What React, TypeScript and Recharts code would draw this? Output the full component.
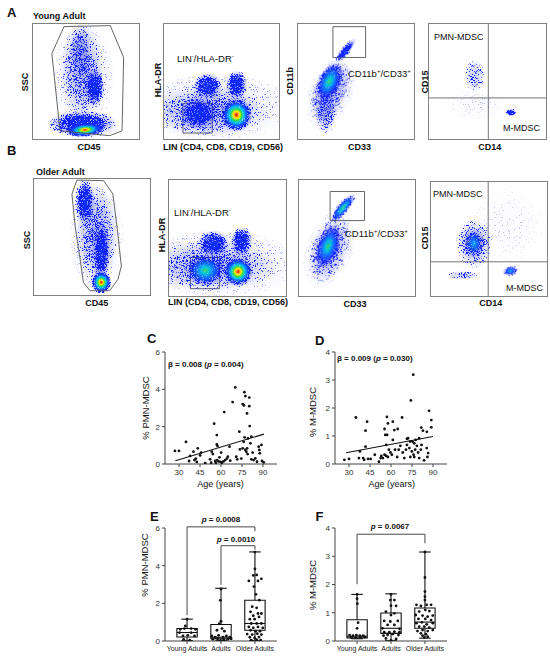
import React from 'react'
import { ScatterChart, Scatter, XAxis, YAxis, ReferenceLine, ReferenceArea } from 'recharts'

const FONT = '"Liberation Sans", Arial, sans-serif'

// ---------- C / D : % MDSC by age ----------
const pmnByAge: [number, number][] = [
  [27.1, 0.7], [30, 0.7], [35, 1.18], [37.2, 0.16], [37.9, 0.43], [40.3, 0.66], [41, 0.21], [42, 0.29],
  [42.7, 0.11], [43.4, 0.84], [45.1, 0.46], [45.8, 0.61], [48.7, 0.04], [52.2, 0.25], [53, 0.07], [53.4, 0.66],
  [54.2, 0.53], [55.1, 2.16], [55.8, 0.16], [56.3, 0.07], [57, 1.55], [57, 1.05], [57.5, 0.96], [57.3, 0.21],
  [58.2, 0.14], [58.9, 0.36], [59.7, 0.11], [60.1, 0.61], [60.6, 0.07], [61.8, 0.14], [62.3, 2.78], [63, 0.21],
  [64.2, 0.29], [64.9, 0.39], [66.1, 0.93], [66.6, 0.18], [68.3, 3.32], [70.2, 4.1], [70.9, 0.39], [71.6, 0.25],
  [73.1, 1.73], [73.5, 0.78], [74.5, 0.29], [75.5, 3.21], [76.4, 3.14], [76.7, 3.85], [77.4, 3.64], [78.6, 2.71],
  [80.2, 3.56], [80.2, 3.1], [80.5, 2.03], [76.2, 1.19], [76.9, 1.43], [75.5, 0.84], [77.4, 0.75], [78.1, 0.66],
  [78.6, 0.84], [79, 0.53], [79.3, 1.37], [81.7, 1.46], [81, 1.11], [81.7, 0.25], [82.6, 0.61], [83.3, 0.21],
  [84.5, 0.3], [85.7, 0.12], [86.9, 0.93], [87.4, 0.75], [87.7, 0.57], [88.9, 1.02], [89.3, 0.16], [90.5, 0.09],
]
const mByAge: [number, number][] = [
  [75.9, 3.19], [74.2, 2.27], [87.2, 1.9], [88.8, 1.57], [88.8, 1.31], [34.9, 1.66], [42.9, 1.51], [41.8, 1.19],
  [57.1, 1.68], [57.8, 1.45], [61.3, 1.51], [67.9, 1.66], [55.4, 1.25], [62.4, 1.21], [64.8, 1.25], [55.9, 1.04],
  [57.2, 1.04], [81.6, 1.3], [82.8, 1.19], [85.6, 1.15], [56.6, 0.68], [61.3, 0.86], [71.4, 0.9], [72.2, 0.92],
  [73.6, 0.8], [75.4, 0.8], [76.6, 0.74], [77.6, 0.86], [41.8, 0.62], [26.7, 0.15], [30, 0.18], [37.8, 0.45],
  [37.1, 0.21], [40.1, 0.21], [40.8, 0.15], [43.6, 0.18], [45.5, 0.18], [48.4, 0.33], [51.4, 0.08], [52.6, 0.21],
  [53.1, 0.29], [54.2, 0.21], [55.4, 0.33], [56.6, 0.29], [57.8, 0.25], [58.5, 0.51], [59.6, 0.41], [60.6, 0.33],
  [62.9, 0.51], [64.4, 0.25], [65.5, 0.51], [66.7, 0.65], [68.4, 0.41], [69.5, 0.21], [70.7, 0.51], [71.4, 0.68],
  [73.1, 0.57], [73.8, 0.25], [74.9, 0.45], [76.1, 0.33], [76.6, 0.25], [77.3, 0.51], [78.5, 0.65], [79.4, 0.41],
  [80.1, 0.21], [81.3, 0.51], [83.6, 0.13], [85.5, 0.57], [86.5, 0.39], [86, 0.25], [81.8, 0.68], [80.1, 0.92],
]
const pmnFit = [{ age: 27.4, pct: 0.17 }, { age: 90.7, pct: 1.6 }]
const mFit = [{ age: 27.9, pct: 0.4 }, { age: 90, pct: 0.98 }]
const ageTicks = [30, 45, 60, 75, 90]

// ---------- E / F : box plots by group ----------
const groups = ['Young Adults', 'Adults', 'Older Adults']
const pmnBoxes = [
  { min: 0.02, q1: 0.21, med: 0.45, q3: 0.66, max: 1.16 },
  { min: 0.03, q1: 0.12, med: 0.2, q3: 0.88, max: 2.8 },
  { min: 0.03, q1: 0.57, med: 0.93, q3: 2.16, max: 4.73 },
]
const mBoxes = [
  { min: 0.08, q1: 0.11, med: 0.17, q3: 0.75, max: 1.65 },
  { min: 0.02, q1: 0.27, med: 0.45, q3: 0.99, max: 1.67 },
  { min: 0.1, q1: 0.45, med: 0.67, q3: 1.17, max: 3.15 },
]
// [offset from group centre, value]
const pmnGroupPts: [number, number][][] = [
  [[0, 1.16], [-0.05, 0.8], [-0.2, 0.62], [-0.08, 0.66], [0.12, 0.66], [0.25, 0.62], [-0.22, 0.45], [0.12, 0.45],
    [-0.12, 0.27], [0.02, 0.3], [0.22, 0.27], [-0.1, 0.09], [0.08, 0.04]],
  [[0, 2.76], [-0.02, 2.16], [0, 1.05], [-0.05, 0.92], [-0.12, 0.57], [0.03, 0.66], [0.1, 0.52], [-0.27, 0.27],
    [-0.17, 0.2], [-0.07, 0.3], [0.06, 0.21], [0.16, 0.27], [0.26, 0.2], [-0.24, 0.09], [-0.1, 0.12], [0.08, 0.07],
    [0.2, 0.09], [0.3, 0.12], [-0.02, 0.02]],
  [[0, 4.72], [0, 3.83], [-0.05, 3.48], [0.05, 3.51], [0.19, 3.3], [-0.18, 3.19], [0.09, 3.19], [-0.03, 2.89],
    [0.03, 2.48], [0.13, 2.17], [-0.08, 1.82], [0.05, 1.76], [-0.13, 1.55], [0.09, 1.46], [0.19, 1.46], [-0.05, 1.34],
    [0.12, 1.28], [-0.15, 1.16], [-0.01, 1.16], [-0.11, 0.93], [0.05, 0.93], [0.19, 0.93], [-0.18, 0.75], [-0.05, 0.7],
    [0.09, 0.75], [0.23, 0.7], [-0.13, 0.57], [0.02, 0.52], [0.15, 0.52], [-0.23, 0.37], [-0.08, 0.34], [0.07, 0.39],
    [0.19, 0.34], [-0.15, 0.2], [-0.01, 0.16], [0.12, 0.21], [-0.11, 0.04], [0.05, 0.07], [0.17, 0.05]],
]
const mGroupPts: [number, number][][] = [
  [[0, 1.65], [0, 1.5], [0.01, 1.32], [0.03, 0.65], [0, 0.45], [-0.22, 0.21], [-0.12, 0.19], [-0.02, 0.21],
    [0.08, 0.19], [0.18, 0.19], [-0.17, 0.12], [-0.04, 0.12], [0.1, 0.12], [0.23, 0.14]],
  [[0, 1.65], [-0.02, 1.45], [0.1, 1.45], [0, 1.25], [0.15, 1.24], [-0.15, 1.04], [0, 0.92], [0.1, 0.98],
    [-0.2, 0.71], [-0.02, 0.69], [0.2, 0.71], [-0.1, 0.57], [0.1, 0.57], [-0.25, 0.45], [0.25, 0.43], [-0.2, 0.31],
    [-0.05, 0.31], [0.1, 0.33], [0.25, 0.31], [-0.22, 0.19], [-0.1, 0.21], [0.05, 0.24], [0.22, 0.21], [-0.15, 0.09],
    [0.15, 0.07], [0, 0.02]],
  [[0, 3.15], [0, 2.25], [0, 1.75], [0, 1.57], [0, 1.45], [-0.25, 1.28], [-0.12, 1.24], [0.05, 1.28], [0.18, 1.28],
    [0.01, 1.1], [-0.17, 1.04], [0.13, 1.06], [-0.27, 0.92], [-0.07, 0.9], [0.08, 0.86], [0.23, 0.9], [-0.19, 0.78],
    [0.01, 0.78], [0.18, 0.74], [-0.25, 0.63], [-0.09, 0.66], [0.05, 0.59], [0.23, 0.63], [-0.17, 0.51], [-0.02, 0.51],
    [0.13, 0.47], [-0.22, 0.35], [-0.07, 0.39], [0.08, 0.35], [0.23, 0.39], [-0.12, 0.27], [0.03, 0.24], [-0.07, 0.19],
    [0.08, 0.15], [-0.02, 0.12]],
]
const pmnBrackets = [
  { from: 1, to: 3, y: 6.06, left: 1.37, right: 5.83 },
  { from: 2, to: 3, y: 5.06, left: 2.98, right: 4.85 },
]
const mBrackets = [{ from: 1, to: 3, y: 3.78, left: 2.01, right: 3.46 }]

// ---------- A / B : flow cytometry populations (axis units 0-100) ----------
type Pop = { x: number; y: number; sx: number; sy: number; rot: number; lv: string }
const pop = (x: number, y: number, sx: number, sy: number, rot: number, lv: string): Pop => ({ x, y, sx, sy, rot, lv })

const youngSsc = [pop(48, 55, 30, 48, 0, 'trace'), pop(46, 60, 20, 42, 0, 'faint'), pop(45, 76, 10, 24, 0, 'faint'),
  pop(58, 45, 10, 18, 0, 'blue'), pop(47, 13, 34, 12, 0, 'blue'), pop(49, 8, 18, 6, 5, 'hot')]
const youngLin = [pop(45, 28, 70, 30, 0, 'trace'), pop(38, 24, 52, 22, 0, 'faint'), pop(30, 22, 17, 15, 0, 'blue'),
  pop(38, 46, 13, 12, 0, 'blue'), pop(63, 47, 10, 13, 0, 'blue'), pop(63, 21, 14, 15, 0, 'hot')]
const youngCd11b = [pop(28, 40, 34, 20, 65, 'trace'), pop(28, 42, 28, 15, 65, 'faint'), pop(24, 22, 9, 18, 0, 'faint'),
  pop(27, 50, 18, 10, 65, 'warm'), pop(41, 77, 14, 4, 50, 'blue')]
const youngCd15 = [pop(40, 30, 30, 14, 0, 'dust'), pop(39, 55, 9, 14, 0, 'sparse'), pop(70, 23, 5, 3.5, 0, 'blue')]

const olderSsc = [pop(54, 50, 24, 48, 0, 'trace'), pop(54, 52, 18, 44, 0, 'faint'), pop(44, 80, 9, 21, 0, 'blue'),
  pop(58, 38, 8, 27, 0, 'blue'), pop(58, 11, 9, 10, 0, 'hot')]
const olderLin = [pop(42, 28, 72, 30, 0, 'trace'), pop(36, 26, 56, 22, 0, 'faint'), pop(31, 22, 16, 14, 0, 'warm'),
  pop(38, 45, 14, 12, 0, 'blue'), pop(62, 47, 10, 13, 0, 'blue'), pop(59, 21, 13, 13, 0, 'hot')]
const olderCd11b = [pop(26, 40, 36, 21, 70, 'trace'), pop(26, 40, 30, 16, 70, 'faint'), pop(25, 43, 19, 10, 72, 'warm'),
  pop(38, 76, 16, 5, 50, 'warm')]
const olderCd15 = [pop(65, 62, 35, 35, 0, 'dust'), pop(37, 46, 16, 22, 0, 'faint'), pop(27, 18, 14, 4, 0, 'sparse'),
  pop(37, 46, 9, 13, 0, 'cool'), pop(68.5, 22, 7, 4.5, 10, 'cool')]

const youngGate = [[29.2, 97.7], [72.9, 98.6], [85.5, 70.9], [84, 7.1], [72.3, 2.9], [25.5, 7.1], [17.8, 74.3], [29.2, 97.7]]
  .map(([x, y]) => ({ x, y }))
const olderGate = [[37, 99], [60, 98.6], [68, 87], [72, 55], [75.3, 25], [72.4, 13.6], [65.3, 3.7], [48.3, 3.7],
  [42.6, 10.8], [39.8, 30.6], [35.5, 59], [32.7, 87], [37, 99]].map(([x, y]) => ({ x, y }))

// density colour ramps (stop offset, colour, density 0-1)
const LEVELS: Record<string, [number, string, number][]> = {
  hot: [[0, '#d80000', 1], [0.1, '#ff7a00', 1], [0.2, '#ffee00', 1], [0.32, '#3ddc3d', 1], [0.46, '#00c8f0', 1],
    [0.64, '#1450ff', 1], [0.82, '#1020ff', 0.65], [1, '#1020ff', 0]],
  warm: [[0, '#3ed45a', 1], [0.2, '#00c8d8', 1], [0.45, '#1470ff', 1], [0.75, '#1020ff', 0.65], [1, '#1020ff', 0]],
  cool: [[0, '#10b8f0', 1], [0.3, '#1466ff', 1], [0.7, '#1020ff', 0.6], [1, '#1020ff', 0]],
  blue: [[0, '#1030ff', 1], [0.5, '#1020ff', 0.85], [1, '#1020ff', 0]],
  faint: [[0, '#1020ff', 0.62], [0.6, '#1020ff', 0.38], [1, '#1020ff', 0]],
  sparse: [[0, '#1020ff', 0.5], [0.7, '#1020ff', 0.25], [1, '#1020ff', 0]],
  trace: [[0, '#1020ff', 0.18], [0.7, '#1020ff', 0.09], [1, '#1020ff', 0]],
  dust: [[0, '#1020ff', 0.06], [1, '#1020ff', 0]],
}

const dot = (p: any) => <circle cx={p.cx} cy={p.cy} r={1.4} fill="#111" />
const axisTick = { fontSize: 8, fill: '#333' }

function Txt({ x, y, size = 9, bold = false, align = 'left', rot = false, children }: any) {
  const tx = align === 'center' ? '-50%' : align === 'right' ? '-100%' : '0'
  return (
    <div style={{
      position: 'absolute', left: x, top: y, fontSize: size, fontWeight: bold ? 700 : 400, color: '#111',
      whiteSpace: 'nowrap', lineHeight: 1, transform: `translate(${rot ? '-50%' : tx}, -50%)${rot ? ' rotate(-90deg)' : ''}`,
    }}>{children}</div>
  )
}

function Flow({ left, top, w, h, pops, gate, rect, quad }: any) {
  const pw = w - 2
  const ph = h - 2
  const blob = (p: any) => {
    const d = p.payload as Pop
    return (
      <ellipse cx={p.cx} cy={p.cy} rx={(d.sx * pw) / 100} ry={(d.sy * ph) / 100} fill={`url(#lv-${d.lv})`}
        transform={`rotate(${-d.rot} ${p.cx} ${p.cy})`} filter="url(#events)" />
    )
  }
  return (
    <div style={{ position: 'absolute', left, top, width: w, height: h, border: '1px solid #808080', boxSizing: 'border-box' }}>
      <ScatterChart width={pw} height={ph} margin={{ top: 0, right: 0, bottom: 0, left: 0 }}>
        <XAxis type="number" dataKey="x" domain={[0, 100]} hide allowDataOverflow />
        <YAxis type="number" dataKey="y" domain={[0, 100]} hide allowDataOverflow />
        <Scatter data={pops} shape={blob} isAnimationActive={false} />
        {gate && <Scatter data={gate} line={{ stroke: '#555', strokeWidth: 0.9 }} shape={() => <g />} isAnimationActive={false} />}
        {rect && <ReferenceArea x1={rect[0]} x2={rect[1]} y1={rect[2]} y2={rect[3]} fill="none" fillOpacity={0} stroke="#555" strokeWidth={0.9} />}
        {quad && <ReferenceLine x={quad[0]} stroke="#666" strokeWidth={0.9} />}
        {quad && <ReferenceLine y={quad[1]} stroke="#666" strokeWidth={0.9} />}
      </ScatterChart>
    </div>
  )
}

function AgeChart({ left, top, pts, fit, yMax, yTicks }: any) {
  const data = pts.map(([age, pct]: number[]) => ({ age, pct }))
  return (
    <div style={{ position: 'absolute', left, top }}>
      <ScatterChart width={155} height={144} margin={{ top: 12, right: 8, bottom: 0, left: 0 }}>
        <XAxis type="number" dataKey="age" domain={[20, 100]} ticks={ageTicks} interval={0} height={20} tick={axisTick}
          tickSize={3} stroke="#444" allowDataOverflow />
        <YAxis type="number" dataKey="pct" domain={[0, yMax]} ticks={yTicks} interval={0} width={35} tick={axisTick}
          tickSize={3} stroke="#444" allowDataOverflow />
        <Scatter data={data} shape={dot} isAnimationActive={false} />
        <ReferenceLine segment={[{ x: fit[0].age, y: fit[0].pct }, { x: fit[1].age, y: fit[1].pct }]} stroke="#111" strokeWidth={1.1} />
      </ScatterChart>
    </div>
  )
}

function BoxChart({ left, top, boxes, groupPts, brackets, yMax, yTicks }: any) {
  const data = groupPts.flatMap((pts: number[][], i: number) => pts.map(([off, v]) => ({ g: i + 1 + off, v })))
  const parts: any[] = []
  boxes.forEach((b: any, i: number) => {
    const g = i + 1
    const s = { stroke: '#111', strokeWidth: 1.1 }
    parts.push(<ReferenceArea key={`a${i}`} x1={g - 0.3} x2={g + 0.3} y1={b.q1} y2={b.q3} fill="none" fillOpacity={0} {...s} />)
    parts.push(<ReferenceLine key={`m${i}`} segment={[{ x: g - 0.3, y: b.med }, { x: g + 0.3, y: b.med }]} {...s} />)
    parts.push(<ReferenceLine key={`w${i}`} segment={[{ x: g, y: b.q3 }, { x: g, y: b.max }]} {...s} />)
    parts.push(<ReferenceLine key={`l${i}`} segment={[{ x: g, y: b.min }, { x: g, y: b.q1 }]} {...s} />)
    parts.push(<ReferenceLine key={`c${i}`} segment={[{ x: g - 0.17, y: b.max }, { x: g + 0.17, y: b.max }]} {...s} />)
    parts.push(<ReferenceLine key={`d${i}`} segment={[{ x: g - 0.17, y: b.min }, { x: g + 0.17, y: b.min }]} {...s} />)
  })
  brackets.forEach((k: any, i: number) => {
    const s = { stroke: '#333', strokeWidth: 0.9, ifOverflow: 'visible' as const }
    parts.push(<ReferenceLine key={`b${i}a`} segment={[{ x: k.from, y: k.left }, { x: k.from, y: k.y }]} {...s} />)
    parts.push(<ReferenceLine key={`b${i}b`} segment={[{ x: k.from, y: k.y }, { x: k.to, y: k.y }]} {...s} />)
    parts.push(<ReferenceLine key={`b${i}c`} segment={[{ x: k.to, y: k.y }, { x: k.to, y: k.right }]} {...s} />)
  })
  return (
    <div style={{ position: 'absolute', left, top }}>
      <ScatterChart width={155} height={159} margin={{ top: 28, right: 8, bottom: 0, left: 0 }}>
        <XAxis type="number" dataKey="g" domain={[0.35, 3.65]} ticks={[1, 2, 3]} interval={0} height={18}
          tickFormatter={(v: number) => groups[v - 1]} tick={{ fontSize: 7, fill: '#222' }} tickSize={3} stroke="#444" allowDataOverflow />
        <YAxis type="number" dataKey="v" domain={[0, yMax]} ticks={yTicks} interval={0} width={35} tick={axisTick}
          tickSize={3} stroke="#444" allowDataOverflow />
        {parts}
        <Scatter data={data} shape={dot} isAnimationActive={false} />
      </ScatterChart>
    </div>
  )
}

const P = () => <i>p</i>
const sup = { fontSize: 6 }

export default function App() {
  return (
    <div style={{ position: 'absolute', left: 0, top: 0, width: 550, height: 659, background: '#fff', fontFamily: FONT, overflow: 'hidden' }}>
      <svg width={0} height={0} style={{ position: 'absolute' }}>
        <defs>
          {Object.entries(LEVELS).map(([k, stops]) => (
            <radialGradient key={k} id={`lv-${k}`}>
              {stops.map(([o, c, a], i) => <stop key={i} offset={o} stopColor={c} stopOpacity={a} />)}
            </radialGradient>
          ))}
          {/* turns a smooth density into event dots over a soft haze */}
          <filter id="events" x="-10%" y="-10%" width="120%" height="120%" colorInterpolationFilters="sRGB">
            <feTurbulence type="fractalNoise" baseFrequency="1.6" numOctaves={1} seed={7} result="n" />
            <feColorMatrix in="n" type="matrix" values="0 0 0 0 0  0 0 0 0 0  0 0 0 0 0  2.8 0 0 0 -0.9" result="na" />
            <feComposite in="SourceAlpha" in2="na" operator="arithmetic" k1={0} k2={1} k3={-1} k4={0} result="d" />
            <feComponentTransfer in="d" result="mask">
              <feFuncA type="linear" slope={6} intercept={0} />
            </feComponentTransfer>
            <feColorMatrix in="SourceGraphic" type="matrix" values="1 0 0 0 0  0 1 0 0 0  0 0 1 0 0  0 0 0 0 1" result="solid" />
            <feComposite in="solid" in2="mask" operator="in" result="dots" />
            <feComponentTransfer in="SourceGraphic" result="haze">
              <feFuncA type="linear" slope={0.45} intercept={0} />
            </feComponentTransfer>
            <feMerge>
              <feMergeNode in="haze" />
              <feMergeNode in="dots" />
            </feMerge>
          </filter>
        </defs>
      </svg>

      {/* A */}
      <Txt x={7} y={12} size={13} bold>A</Txt>
      <Txt x={33} y={15.5} bold>Young Adult</Txt>
      <Flow left={32} top={23} w={108} h={117} pops={youngSsc} gate={youngGate} />
      <Flow left={163} top={23} w={117} h={117} pops={youngLin} rect={[16.5, 41.9, 5.2, 31]} />
      <Flow left={297} top={23} w={118} h={117} pops={youngCd11b} rect={[30.1, 58.3, 70.9, 97.7]} />
      <Flow left={428} top={23} w={119} h={117} pops={youngCd15} quad={[50.7, 35.7]} />
      <Txt x={25} y={82} bold rot>SSC</Txt>
      <Txt x={89} y={147} bold align="center">CD45</Txt>
      <Txt x={158} y={80} bold rot>HLA-DR</Txt>
      <Txt x={163} y={147} bold>LIN (CD4, CD8, CD19, CD56)</Txt>
      <Txt x={177} y={58} size={9.5}>LIN<sup style={sup}>-</sup>/HLA-DR<sup style={sup}>-</sup></Txt>
      <Txt x={290} y={81} bold rot>CD11b</Txt>
      <Txt x={348} y={73} size={9.5}>CD11b<sup style={sup}>+</sup>/CD33<sup style={sup}>+</sup></Txt>
      <Txt x={359.5} y={147} bold align="center">CD33</Txt>
      <Txt x={425} y={82} bold rot>CD15</Txt>
      <Txt x={434} y={37} size={9}>PMN-MDSC</Txt>
      <Txt x={503} y={128} size={9}>M-MDSC</Txt>
      <Txt x={489.7} y={147} bold align="center">CD14</Txt>

      {/* B */}
      <Txt x={7} y={150} size={13} bold>B</Txt>
      <Txt x={36} y={171.5} bold>Older Adult</Txt>
      <Flow left={33} top={178} w={118} h={118} pops={olderSsc} gate={olderGate} />
      <Flow left={168} top={179} w={119} h={118} pops={olderLin} rect={[18.3, 43.1, 6.3, 33.2]} />
      <Flow left={298} top={179} w={118} h={118} pops={olderCd11b} rect={[26.8, 56.5, 65, 90.1]} />
      <Flow left={430} top={181} w={118} h={116} pops={olderCd15} quad={[49.3, 30]} />
      <Txt x={27} y={240} bold rot>SSC</Txt>
      <Txt x={96.7} y={303} bold align="center">CD45</Txt>
      <Txt x={162} y={235} bold rot>HLA-DR</Txt>
      <Txt x={168} y={302} bold>LIN (CD4, CD8, CD19, CD56)</Txt>
      <Txt x={174} y={212} size={9.5}>LIN<sup style={sup}>-</sup>/HLA-DR<sup style={sup}>-</sup></Txt>
      <Txt x={345} y={233} size={9.5}>CD11b<sup style={sup}>+</sup>/CD33<sup style={sup}>+</sup></Txt>
      <Txt x={355} y={304} bold align="center">CD33</Txt>
      <Txt x={425} y={238} bold rot>CD15</Txt>
      <Txt x={433} y={194} size={9}>PMN-MDSC</Txt>
      <Txt x={506} y={288} size={9}>M-MDSC</Txt>
      <Txt x={490.7} y={303} bold align="center">CD14</Txt>

      {/* C / D */}
      <Txt x={147} y={338} size={13} bold>C</Txt>
      <AgeChart left={130} top={340} pts={pmnByAge} fit={pmnFit} yMax={6} yTicks={[0, 2, 4, 6]} />
      <Txt x={168} y={365} size={8} bold>β = 0.008 (<P /> = 0.004)</Txt>
      <Txt x={146} y={408} size={9.5} rot>% PMN-MDSC</Txt>
      <Txt x={220.5} y={484} size={9} align="center">Age (years)</Txt>

      <Txt x={315} y={339.5} size={13} bold>D</Txt>
      <AgeChart left={300} top={340} pts={mByAge} fit={mFit} yMax={4} yTicks={[0, 1, 2, 3, 4]} />
      <Txt x={337} y={359} size={8} bold>β = 0.009 (<P /> = 0.030)</Txt>
      <Txt x={313} y={412} size={9.5} rot>% M-MDSC</Txt>
      <Txt x={391.7} y={484} size={9} align="center">Age (years)</Txt>

      {/* E / F */}
      <Txt x={150} y={515.5} size={13} bold>E</Txt>
      <BoxChart left={130} top={500} boxes={pmnBoxes} groupPts={pmnGroupPts} brackets={pmnBrackets} yMax={6} yTicks={[0, 2, 4, 6]} />
      <Txt x={145} y={565} size={9.5} rot>% PMN-MDSC</Txt>
      <Txt x={221} y={520} size={8} bold align="center"><P /> = 0.0008</Txt>
      <Txt x={236} y={539.5} size={8} bold align="center"><P /> = 0.0010</Txt>

      <Txt x={315.5} y={515.5} size={13} bold>F</Txt>
      <BoxChart left={300} top={500} boxes={mBoxes} groupPts={mGroupPts} brackets={mBrackets} yMax={4} yTicks={[0, 1, 2, 3, 4]} />
      <Txt x={313} y={585} size={9.5} rot>% M-MDSC</Txt>
      <Txt x={390} y={527} size={8} bold align="center"><P /> = 0.0067</Txt>
    </div>
  )
}
